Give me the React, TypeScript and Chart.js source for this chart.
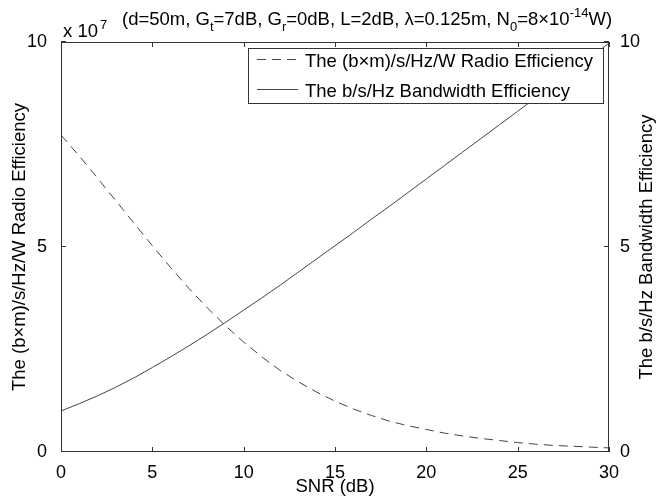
import React, { useEffect, useRef } from "react";
import { Chart, registerables } from "chart.js";

Chart.register(...registerables);

const FONT = '"Liberation Sans", Arial, Helvetica, sans-serif';

// SNR in dB (x axis)
const snrDb = [0, 1, 2, 3, 4, 5, 6, 7, 8, 9, 10, 11, 12, 13, 14, 15, 16, 17, 18, 19, 20, 21, 22, 23, 24, 25, 26, 27, 28, 29, 30];
// (b×m)/s/Hz/W radio efficiency, in units of 10^7 (left axis)
const radioEfficiency = [7.73, 7.22, 6.68, 6.13, 5.58, 5.03, 4.5, 3.99, 3.52, 3.08, 2.68, 2.32, 1.99, 1.71, 1.46, 1.24, 1.05, 0.89, 0.75, 0.64, 0.55, 0.46, 0.39, 0.33, 0.28, 0.23, 0.19, 0.16, 0.14, 0.12, 0.1];
// b/s/Hz bandwidth efficiency (right axis)
const bandwidthEfficiency = [1.0, 1.18, 1.37, 1.58, 1.81, 2.06, 2.32, 2.59, 2.87, 3.16, 3.46, 3.76, 4.07, 4.39, 4.71, 5.03, 5.35, 5.68, 6.0, 6.33, 6.66, 6.99, 7.32, 7.65, 7.98, 8.31, 8.64, 8.97, 9.3, 9.64, 9.97];

const xTickValues = [0, 5, 10, 15, 20, 25, 30];
const leftTickValues = [0, 5, 10];
const rightTickValues = [0, 5, 10];

const seriesLabels = ["The (b\u00d7m)/s/Hz/W Radio Efficiency", "The b/s/Hz Bandwidth Efficiency"];
const xTitle = "SNR (dB)";
const leftTitle = "The (b\u00d7m)/s/Hz/W Radio Efficiency";
const rightTitle = "The b/s/Hz Bandwidth Efficiency";
const exponentBase = "x 10";
const exponentPower = "7";
// title pieces: [text, kind]  kind: n = normal, sub = subscript, sup = superscript
const titleParts: [string, string][] = [
  ["(d=50m, G", "n"],
  ["t", "sub"],
  ["=7dB, G", "n"],
  ["r", "sub"],
  ["=0dB, L=2dB, \u03bb=0.125m, N", "n"],
  ["0", "sub"],
  ["=8\u00d710", "n"],
  ["-14", "sup"],
  ["W)", "n"],
];

const LINE_COLOR = "#444";
const AXIS_COLOR = "#333";
const MAIN = 18.5;
const SMALL = 13;

const framePlugin = {
  id: "matlabFrame",
  afterDatasetsDraw(chart: any) {
    const { ctx, chartArea, scales } = chart;
    const { left, right, top, bottom } = chartArea;
    ctx.save();
    ctx.strokeStyle = AXIS_COLOR;
    ctx.lineWidth = 1;
    ctx.strokeRect(left + 0.5, top + 0.5, right - left - 1, bottom - top - 1);
    const L = 5;
    const line = (x1: number, y1: number, x2: number, y2: number) => {
      ctx.beginPath();
      ctx.moveTo(x1, y1);
      ctx.lineTo(x2, y2);
      ctx.stroke();
    };
    scales.x.ticks.forEach((t: any) => {
      const px = Math.round(scales.x.getPixelForValue(t.value)) + 0.5;
      line(px, bottom, px, bottom - L);
      line(px, top, px, top + L);
    });
    scales.y.ticks.forEach((t: any) => {
      const py = Math.round(scales.y.getPixelForValue(t.value)) - 0.5;
      line(left, py, left + L, py);
    });
    scales.y1.ticks.forEach((t: any) => {
      const py = Math.round(scales.y1.getPixelForValue(t.value)) - 0.5;
      line(right, py, right - L, py);
    });

    // legend box (inside the axes, top-right)
    ctx.font = `${MAIN}px ${FONT}`;
    const datasets = chart.data.datasets;
    const maxW = Math.max(...datasets.map((d: any) => ctx.measureText(d.label).width));
    const boxRight = right - 6;
    const boxTop = top + 6;
    const textX = boxRight - 10 - maxW;
    const boxLeft = textX - 57;
    const boxH = 55;
    ctx.fillStyle = "#fff";
    ctx.fillRect(boxLeft, boxTop, boxRight - boxLeft, boxH);
    ctx.strokeStyle = AXIS_COLOR;
    ctx.strokeRect(Math.round(boxLeft) + 0.5, boxTop + 0.5, Math.round(boxRight - boxLeft), boxH);
    datasets.forEach((d: any, i: number) => {
      const baseY = boxTop + 18.7 + i * 30;
      const ly = Math.round(baseY - 8) + 0.5;
      ctx.save();
      ctx.strokeStyle = d.borderColor;
      ctx.lineWidth = d.borderWidth;
      ctx.setLineDash(d.borderDash || []);
      line(boxLeft + 9, ly, boxLeft + 50, ly);
      ctx.restore();
      ctx.fillStyle = "#000";
      ctx.textBaseline = "alphabetic";
      ctx.textAlign = "left";
      ctx.fillText(d.label, textX, baseY);
    });
    ctx.restore();
  },
  afterDraw(chart: any) {
    const { ctx, chartArea } = chart;
    ctx.save();
    ctx.fillStyle = "#000";
    ctx.textBaseline = "alphabetic";
    ctx.textAlign = "left";
    // exponent label
    ctx.font = `${MAIN}px ${FONT}`;
    const ex = chartArea.left + 2;
    ctx.fillText(exponentBase, ex, 37);
    const ew = ctx.measureText(exponentBase).width;
    ctx.font = `${SMALL}px ${FONT}`;
    ctx.fillText(exponentPower, ex + ew + 2, 29);
    // title
    let x = 122;
    const base = 25;
    titleParts.forEach(([txt, kind]) => {
      if (kind === "n") {
        ctx.font = `${MAIN}px ${FONT}`;
        ctx.fillText(txt, x, base);
      } else if (kind === "sub") {
        ctx.font = `${SMALL}px ${FONT}`;
        ctx.fillText(txt, x, base + 6);
      } else {
        ctx.font = `${SMALL}px ${FONT}`;
        ctx.fillText(txt, x, base - 8);
      }
      x += ctx.measureText(txt).width;
    });
    // right axis title (reads bottom to top)
    ctx.font = `${MAIN}px ${FONT}`;
    ctx.textAlign = "center";
    ctx.textBaseline = "middle";
    ctx.translate(646.5, (chartArea.top + chartArea.bottom) / 2);
    ctx.rotate(-Math.PI / 2);
    ctx.fillText(rightTitle, 0, 0);
    ctx.restore();
  },
};

export default function App() {
  const ref = useRef<HTMLCanvasElement>(null);
  useEffect(() => {
    document.body.style.margin = "0";
    const canvas = ref.current;
    if (!canvas) return;
    const tickFont = { family: FONT, size: 18 };
    const titleFont = { family: FONT, size: MAIN };
    const chart = new Chart(canvas, {
      type: "line",
      data: {
        datasets: [
          {
            label: seriesLabels[0],
            data: snrDb.map((x, i) => ({ x, y: radioEfficiency[i] })),
            yAxisID: "y",
            borderColor: LINE_COLOR,
            borderWidth: 1,
            borderDash: [9, 6],
            pointRadius: 0,
            tension: 0,
            fill: false,
          },
          {
            label: seriesLabels[1],
            data: snrDb.map((x, i) => ({ x, y: bandwidthEfficiency[i] })),
            yAxisID: "y1",
            borderColor: LINE_COLOR,
            borderWidth: 1,
            pointRadius: 0,
            tension: 0,
            fill: false,
          },
        ],
      },
      options: {
        responsive: false,
        animation: false,
        devicePixelRatio: 1,
        layout: { padding: { top: 42, left: 0, right: 0, bottom: 0 } },
        plugins: { legend: { display: false }, tooltip: { enabled: false }, title: { display: false } },
        scales: {
          x: {
            type: "linear",
            min: 0,
            max: 30,
            afterBuildTicks: (s: any) => {
              s.ticks = xTickValues.map((v) => ({ value: v }));
            },
            ticks: { font: tickFont, color: "#000", padding: 2, maxRotation: 0, autoSkip: false },
            grid: { display: false },
            border: { display: false },
            title: { display: true, text: xTitle, font: titleFont, color: "#000", padding: { top: 0, bottom: 4 } },
            afterFit: (s: any) => {
              s.height = 50;
            },
          },
          y: {
            type: "linear",
            position: "left",
            min: 0,
            max: 10,
            afterBuildTicks: (s: any) => {
              s.ticks = leftTickValues.map((v) => ({ value: v }));
            },
            ticks: { font: tickFont, color: "#000", padding: 6, autoSkip: false },
            grid: { display: false },
            border: { display: false },
            title: { display: true, text: leftTitle, font: titleFont, color: "#000", padding: { top: 8.4, bottom: 0 } },
            afterFit: (s: any) => {
              s.width = 61;
            },
          },
          y1: {
            type: "linear",
            position: "right",
            min: 0,
            max: 10,
            afterBuildTicks: (s: any) => {
              s.ticks = rightTickValues.map((v) => ({ value: v }));
            },
            ticks: { font: tickFont, color: "#000", padding: 3, autoSkip: false },
            grid: { display: false },
            border: { display: false },
            afterFit: (s: any) => {
              s.width = 48;
            },
          },
        },
      },
      plugins: [framePlugin],
    } as any);
    return () => chart.destroy();
  }, []);
  return (
    <div style={{ width: 657, height: 502, background: "#fff" }}>
      <canvas ref={ref} width={657} height={502} style={{ display: "block" }} />
    </div>
  );
}
